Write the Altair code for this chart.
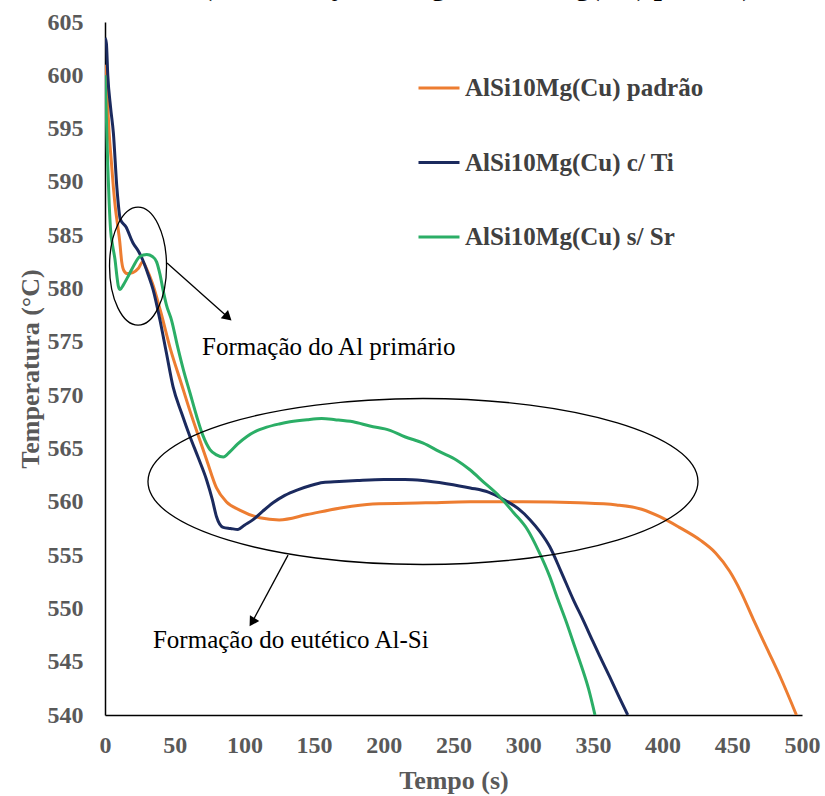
import altair as alt
import pandas as pd

# ---------------- data ----------------
series_names = ["AlSi10Mg(Cu) padrão", "AlSi10Mg(Cu) c/ Ti", "AlSi10Mg(Cu) s/ Sr"]
series_colors = ["#ED7D31", "#1B2A5E", "#2BAE66"]

padrao_t = [0, 1, 2, 3, 4.5, 6, 7.5, 9, 10.5, 12, 13.5, 16, 20, 24, 27, 30, 34, 40, 47, 54, 61, 68,
            73, 80, 87, 97, 111, 125, 145, 168, 192, 230, 262, 300, 340, 367, 385, 398, 412, 427,
            438, 448, 456, 465, 475, 485, 496]
padrao_T = [601, 599.5, 597, 594.5, 592, 589.5, 587.5, 586, 584.5, 582.5, 581.7, 581.4, 581.5, 581.9,
            582.5, 581.8, 580.5, 577.8, 574.3, 571.4, 568.5, 565.8, 563.9, 561.3, 560.0, 559.2, 558.5,
            558.3, 558.8, 559.4, 559.8, 559.9, 560.0, 560.0, 559.9, 559.7, 559.3, 558.6, 557.6, 556.4,
            555.2, 553.5, 551.6, 549.0, 546.2, 543.4, 540]

ti_t = [0, 1, 2, 4, 6, 8.5, 11, 15, 20, 24, 27, 31, 34.5, 39.5, 44, 48.8, 55, 61, 67, 73, 77, 80,
        84.8, 90, 95.4, 100, 106, 113, 120.5, 129, 137.7, 147, 156.4, 168, 181, 200, 215, 228, 245,
        262, 275, 286, 296, 305, 312, 319, 327, 336, 343, 350, 355, 362, 368, 375]
ti_T = [603.5, 603, 600, 597, 594.6, 589.5, 586.5, 585.8, 584.3, 583.5, 582.7, 581.3, 579.9, 577,
        574, 570.8, 568.3, 566.1, 564.1, 562, 560.2, 558.6, 557.6, 557.5, 557.4, 557.8, 558.3, 559.1,
        559.9, 560.6, 561.1, 561.5, 561.8, 561.9, 562, 562.1, 562.1, 562, 561.7, 561.3, 560.9, 560.2,
        559.4, 558.3, 557.2, 555.8, 553.5, 550.8, 548.9, 546.9, 545.5, 543.6, 541.9, 540]

sr_t = [0, 1, 2, 3, 4, 5.5, 7.2, 8.5, 9.6, 10.8, 13, 16, 20, 25, 30, 34, 37, 39.5, 41.6, 44, 47.8,
        52, 56.2, 61, 65.8, 70, 75.3, 80, 84.9, 89.7, 95, 101.6, 108, 116, 125, 132.7, 145, 155.4,
        165, 178, 190, 204.4, 215, 228.3, 240, 252.3, 261.8, 272, 283, 293, 303, 311, 319, 325, 331,
        337, 342, 347, 351.5]
sr_T = [600, 596, 591.5, 588, 585.5, 584, 582.7, 581.2, 580.2, 579.9, 580.3, 581, 582, 583, 583.2,
        583, 582.5, 581.3, 579.9, 578.5, 577.0, 574.6, 572.4, 570.2, 568, 566.3, 564.9, 564.4, 564.2,
        564.7, 565.4, 566.1, 566.6, 567, 567.3, 567.5, 567.7, 567.8, 567.7, 567.5, 567.1, 566.7,
        566.1, 565.5, 564.7, 563.9, 563.0, 561.8, 560.5, 559, 557.4, 555.4, 553.0, 550.8, 548.7,
        546.4, 544.5, 542.4, 540]

x_ticks = list(range(0, 501, 50))
y_ticks = list(range(540, 606, 5))

title_text = "Curvas de arrefecimento (Solidificação da liga AlSi10Mg(Cu) padrão)"
note_texts = ["Formação do Al primário", "Formação do eutético Al-Si"]
note_t = [69.6, 34.4]
note_T = [574.5, 547.0]

# ellipse annotations (centre in data units)
ell1_t, ell1_T = 23.7, 582.1
ell2_t, ell2_T = 228.1, 561.9

# arrows: start -> tip (data units)
arrow_t1 = [44.5, 131.3]
arrow_T1 = [582.4, 555.0]
arrow_t2 = [88.2, 105.5]
arrow_T2 = [577.3, 548.7]
arrow_angle = [41.5, 121.8]

# ---------------- build ----------------
rows = []
for name, ts, Ts in zip(series_names, [padrao_t, ti_t, sr_t], [padrao_T, ti_T, sr_T]):
    for i, (a, b) in enumerate(zip(ts, Ts)):
        rows.append({"serie": name, "t": a, "T": b, "i": i})
df = pd.DataFrame(rows)

FONT = "Liberation Serif"
xscale = alt.Scale(domain=[0, 500], nice=False, zero=False)
yscale = alt.Scale(domain=[540, 605], nice=False, zero=False)

lines = alt.Chart(df).mark_line(strokeWidth=3, clip=True, interpolate="monotone").encode(
    x=alt.X("t:Q", scale=xscale,
            axis=alt.Axis(values=x_ticks, title="Tempo (s)", grid=False, ticks=False,
                          labelFlush=False, labelPadding=18, titlePadding=10)),
    y=alt.Y("T:Q", scale=yscale,
            axis=alt.Axis(values=y_ticks, title="Temperatura (°C)", grid=False, ticks=False,
                          labelFlush=False, labelPadding=22, titlePadding=4)),
    color=alt.Color("serie:N", scale=alt.Scale(domain=series_names, range=series_colors),
                    legend=alt.Legend(title=None, orient="none", legendX=312, legendY=44,
                                      symbolType="stroke", symbolSize=1681, symbolStrokeWidth=3,
                                      labelFont=FONT, labelFontWeight="bold", labelFontSize=25,
                                      labelColor="#404040", rowPadding=39.5, labelOffset=4,
                                      labelLimit=500)),
    order="i:Q",
)

def ellipse_path(b):
    k = 0.5523
    return (f"M 1 0 C 1 {k*b:.4f} {k:.4f} {b:.4f} 0 {b:.4f} "
            f"C {-k:.4f} {b:.4f} -1 {k*b:.4f} -1 0 "
            f"C -1 {-k*b:.4f} {-k:.4f} {-b:.4f} 0 {-b:.4f} "
            f"C {k:.4f} {-b:.4f} 1 {-k*b:.4f} 1 0 Z")

e1 = alt.Chart(pd.DataFrame({"t": [ell1_t], "T": [ell1_T]})).mark_point(
    shape=ellipse_path(59 / 28.5), size=57 ** 2, filled=False, stroke="black",
    strokeWidth=1.3, opacity=1).encode(x=alt.X("t:Q", scale=xscale), y=alt.Y("T:Q", scale=yscale))
e2 = alt.Chart(pd.DataFrame({"t": [ell2_t], "T": [ell2_T]})).mark_point(
    shape=ellipse_path(83 / 275), size=550 ** 2, filled=False, stroke="black",
    strokeWidth=1.3, opacity=1).encode(x=alt.X("t:Q", scale=xscale), y=alt.Y("T:Q", scale=yscale))

adf = pd.DataFrame({"t1": arrow_t1, "T1": arrow_T1, "t2": arrow_t2, "T2": arrow_T2,
                    "ang": arrow_angle})
arrows = alt.Chart(adf).mark_rule(color="black", strokeWidth=1.3).encode(
    x=alt.X("t1:Q", scale=xscale), y=alt.Y("T1:Q", scale=yscale), x2="t2:Q", y2="T2:Q")
heads = alt.Chart(adf).mark_point(shape="triangle-right", filled=True, color="black",
                                   size=120, opacity=1).encode(
    x=alt.X("t2:Q", scale=xscale), y=alt.Y("T2:Q", scale=yscale),
    angle=alt.Angle("ang:Q", scale=None))

notes = alt.Chart(pd.DataFrame({"txt": note_texts, "t": note_t, "T": note_T})).mark_text(
    font=FONT, fontSize=25, align="left", baseline="middle", color="black").encode(
    x=alt.X("t:Q", scale=xscale), y=alt.Y("T:Q", scale=yscale), text="txt:N")

title = alt.Chart(pd.DataFrame({"txt": [title_text]})).mark_text(
    font=FONT, fontSize=29, fontWeight="bold", align="right", baseline="alphabetic",
    color="black").encode(x=alt.value(647), y=alt.value(-27.5), text="txt:N")

chart = alt.layer(lines, e1, e2, arrows, heads, notes, title).properties(
    width=697, height=693,
    autosize=alt.AutoSizeParams(type="none"),
    padding={"left": 105, "top": 22, "right": 23, "bottom": 81},
).configure_view(stroke=None).configure_axis(
    domainColor="black", domainWidth=1.5,
    labelFont=FONT, labelFontWeight="bold", labelFontSize=24, labelColor="#595959",
    titleFont=FONT, titleFontWeight="bold", titleFontSize=26, titleColor="#595959",
)

chart.save("out.html", embed_options={"renderer": "svg", "actions": False})
